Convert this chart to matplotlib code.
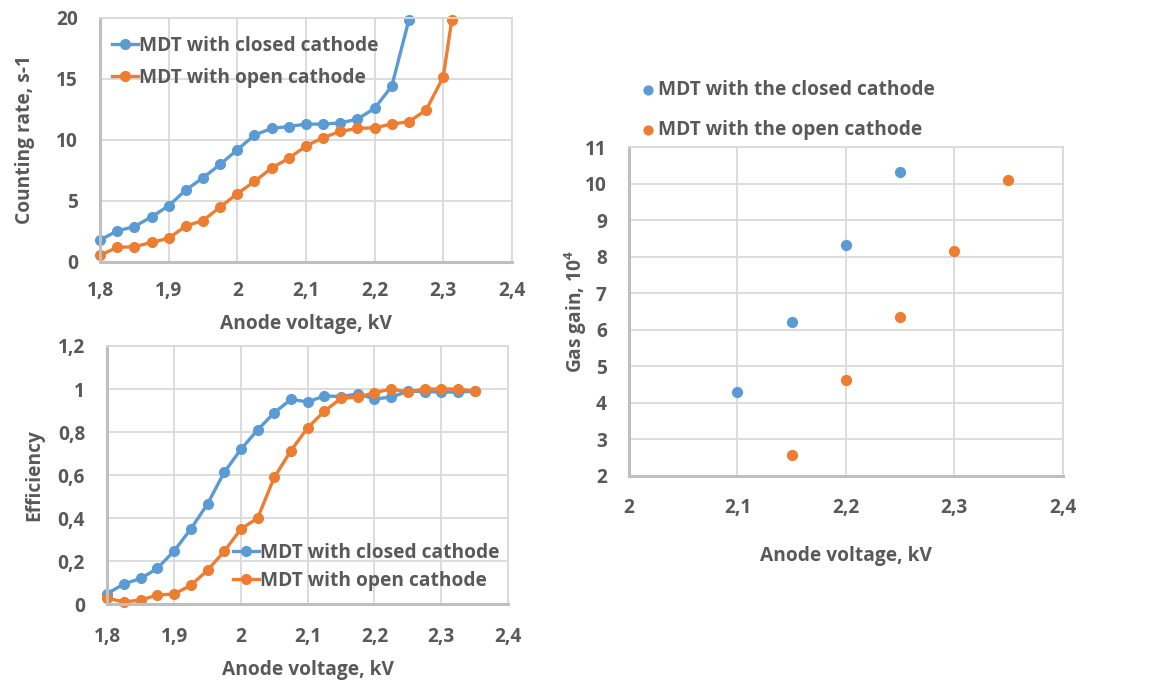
import numpy as np
import matplotlib
matplotlib.use('Agg')
from matplotlib import pyplot as plt

plt.rcParams['font.family'] = ['Open Sans', 'DejaVu Sans']
plt.rcParams['font.weight'] = 'bold'
plt.rcParams['mathtext.fontset'] = 'custom'
plt.rcParams['mathtext.bf'] = 'Open Sans:bold'

BLUE = '#5B9BD5'
ORANGE = '#ED7D31'
GREY = '#595959'
GRID = '#D9D9D9'

# counting rate vs anode voltage
rate_v_closed = [1.8, 1.825, 1.85, 1.875, 1.9, 1.925, 1.95, 1.975, 2.0, 2.025, 2.05,
                 2.075, 2.1, 2.125, 2.15, 2.175, 2.2, 2.225, 2.25]
rate_closed = [1.8, 2.55, 2.9, 3.7, 4.6, 5.9, 6.9, 8.0, 9.2, 10.4, 10.95,
               11.1, 11.3, 11.3, 11.4, 11.7, 12.6, 14.4, 19.85]
rate_v_open = [1.8, 1.825, 1.85, 1.875, 1.9, 1.925, 1.95, 1.975, 2.0, 2.025, 2.05,
               2.075, 2.1, 2.125, 2.15, 2.175, 2.2, 2.225, 2.25, 2.275, 2.3, 2.3125]
rate_open = [0.55, 1.2, 1.25, 1.6, 1.95, 2.95, 3.4, 4.5, 5.6, 6.6, 7.7,
             8.5, 9.5, 10.2, 10.7, 10.95, 11.0, 11.3, 11.5, 12.45, 15.15, 19.85]

# efficiency vs anode voltage
eff_v = [1.8, 1.825, 1.85, 1.875, 1.9, 1.925, 1.95, 1.975, 2.0, 2.025, 2.05, 2.075,
         2.1, 2.125, 2.15, 2.175, 2.2, 2.225, 2.25, 2.275, 2.3, 2.325, 2.35]
eff_closed = [0.05, 0.095, 0.12, 0.167, 0.248, 0.35, 0.466, 0.613, 0.72, 0.81, 0.89, 0.952,
              0.94, 0.968, 0.965, 0.977, 0.954, 0.962, 0.99, 0.988, 0.986, 0.986, 0.99]
eff_open = [0.028, 0.011, 0.02, 0.043, 0.048, 0.088, 0.158, 0.246, 0.35, 0.40, 0.59, 0.714,
            0.82, 0.897, 0.957, 0.962, 0.983, 1.0, 0.986, 1.0, 1.0, 1.0, 0.99]

# gas gain (x 10^4)
gain_v_closed = [2.1, 2.15, 2.2, 2.25]
gain_closed = [4.29, 6.2, 8.31, 10.31]
gain_v_open = [2.15, 2.2, 2.25, 2.3, 2.35]
gain_open = [2.57, 4.62, 6.36, 8.17, 10.1]

volt_ticks = [1.8, 1.9, 2.0, 2.1, 2.2, 2.3, 2.4]
volt_labels = ['1,8', '1,9', '2', '2,1', '2,2', '2,3', '2,4']
rate_ticks = [0, 5, 10, 15, 20]
eff_ticks = [0, 0.2, 0.4, 0.6, 0.8, 1.0, 1.2]
eff_labels = ['0', '0,2', '0,4', '0,6', '0,8', '1', '1,2']
gain_vticks = [2.0, 2.1, 2.2, 2.3, 2.4]
gain_vlabels = ['2', '2,1', '2,2', '2,3', '2,4']
gain_ticks = list(range(2, 12))

fig = plt.figure(figsize=(11.58, 6.81), dpi=100)
ax1 = fig.add_axes([0.0864, 0.6153, 0.3556, 0.3583])
ax2 = fig.add_axes([0.0927, 0.1126, 0.3460, 0.3794])
ax3 = fig.add_axes([0.5432, 0.3015, 0.3745, 0.4822])

fs = 13.8


def style(ax):
    ax.grid(True, color=GRID, lw=1.3)
    ax.set_axisbelow(True)
    for s in ['top', 'right']:
        ax.spines[s].set_color(GRID)
        ax.spines[s].set_linewidth(1.3)
    for s in ['left', 'bottom']:
        ax.spines[s].set_color('#BFBFBF')
        ax.spines[s].set_linewidth(2.2)
    ax.tick_params(length=0, labelsize=fs, labelcolor=GREY)
    for lab in ax.get_xticklabels() + ax.get_yticklabels():
        lab.set_fontweight('bold')


line_kw = dict(lw=2.4, marker='o', ms=7, clip_on=False)

ax1.plot(rate_v_closed, rate_closed, color=BLUE, label='MDT with closed cathode', **line_kw)
ax1.plot(rate_v_open, rate_open, color=ORANGE, label='MDT with open cathode', **line_kw)
ax1.set_xlim(1.8, 2.4)
ax1.set_ylim(0, 20)
ax1.set_xticks(volt_ticks)
ax1.set_xticklabels(volt_labels)
ax1.set_yticks(rate_ticks)
style(ax1)
ax1.tick_params(axis='x', pad=14)
ax1.tick_params(axis='y', pad=16)
ax1.set_xlabel('Anode voltage, kV', fontsize=fs, color=GREY, fontweight='bold', labelpad=9)
ax1.set_ylabel('Counting rate, s-1', fontsize=fs, color=GREY, fontweight='bold', labelpad=15)
ax1.legend(loc='upper left', bbox_to_anchor=(-0.015, 1.0), frameon=False, fontsize=fs,
           handlelength=1.35, handletextpad=0.05, labelspacing=0.62, borderaxespad=0.55,
           labelcolor=GREY)

ax2.plot(eff_v, eff_closed, color=BLUE, label='MDT with closed cathode', **line_kw)
ax2.plot(eff_v, eff_open, color=ORANGE, label='MDT with open cathode', **line_kw)
ax2.set_xlim(1.8, 2.4)
ax2.set_ylim(0, 1.2)
ax2.set_xticks(volt_ticks)
ax2.set_xticklabels(volt_labels)
ax2.set_yticks(eff_ticks)
ax2.set_yticklabels(eff_labels)
style(ax2)
ax2.tick_params(axis='x', pad=16)
ax2.tick_params(axis='y', pad=16)
ax2.set_xlabel('Anode voltage, kV', fontsize=fs, color=GREY, fontweight='bold', labelpad=10)
ax2.set_ylabel('Efficiency', fontsize=fs, color=GREY, fontweight='bold', labelpad=10)
ax2.legend(loc='lower left', bbox_to_anchor=(0.28, 0.0), frameon=False, fontsize=fs,
           handlelength=1.35, handletextpad=0.05, labelspacing=0.42, borderaxespad=0.3,
           labelcolor=GREY)

ax3.scatter(gain_v_closed, gain_closed, color=BLUE, s=50, label='MDT with the closed cathode', zorder=3)
ax3.scatter(gain_v_open, gain_open, color=ORANGE, s=50, label='MDT with the open cathode', zorder=3)
ax3.set_xlim(2.0, 2.4)
ax3.set_ylim(2, 11)
ax3.set_xticks(gain_vticks)
ax3.set_xticklabels(gain_vlabels)
ax3.set_yticks(gain_ticks)
style(ax3)
ax3.tick_params(axis='x', pad=16)
ax3.tick_params(axis='y', pad=16)
ax3.set_xlabel('Anode voltage, kV', fontsize=fs, color=GREY, fontweight='bold', labelpad=20)
ax3.set_ylabel('Gas gain, 10$^\\mathbf{4}$', fontsize=fs, color=GREY, fontweight='bold', labelpad=-3)
ax3.legend(loc='lower left', bbox_to_anchor=(0.016, 1.0), frameon=False, fontsize=fs,
           handlelength=0.5, handletextpad=0.25, labelspacing=1.0, borderaxespad=0.0,
           labelcolor=GREY, scatterpoints=1, markerscale=0.9)

fig.savefig('out.png', dpi=100)
